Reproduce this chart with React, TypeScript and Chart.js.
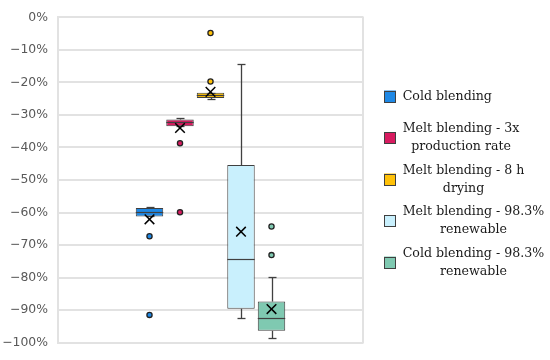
import React, { useEffect, useRef } from 'react';
import { Chart, registerables } from 'chart.js';

Chart.register(...registerables);

// ---- data (values in %) ----
const categories = [
  'Cold blending',
  'Melt blending - 3x production rate',
  'Melt blending - 8 h drying',
  'Melt blending - 98.3% renewable',
  'Cold blending - 98.3% renewable',
];
const legendLines = [
  ['Cold blending'],
  ['Melt blending - 3x', 'production rate'],
  ['Melt blending - 8 h', 'drying'],
  ['Melt blending - 98.3%', 'renewable'],
  ['Cold blending - 98.3%', 'renewable'],
];
const whiskerLow = [-61.2, -33.5, -25.1, -92.3, -98.7];
const q1 = [-61.2, -33.5, -24.8, -89.6, -96.4];
const median = [-59.8, -32.3, -24.0, -74.3, -92.5];
const q3 = [-58.6, -31.4, -23.2, -45.4, -87.4];
const whiskerHigh = [-58.4, -30.9, -23.2, -14.3, -79.7];
const means = [-62.1, -34.0, -22.9, -65.9, -89.7];
const outliers = [
  [-67.3, -91.5],
  [-38.7, -59.9],
  [-4.8, -19.7],
  [],
  [-64.3, -73.1],
];
const yMin = -100;
const yMax = 0;
const yStep = 10;

const colors = ['#1E88E5', '#D81B60', '#FFC107', '#C9F0FD', '#7FC9B1'];
const edge = '#404040';
const gridColor = '#e2e2e2';

const boxPlugin = {
  id: 'boxExtras',
  beforeDatasetsDraw(chart: any) {
    const { ctx, chartArea } = chart;
    ctx.save();
    ctx.strokeStyle = gridColor;
    ctx.lineWidth = 2;
    ctx.beginPath();
    ctx.moveTo(chartArea.right, chartArea.top - 1);
    ctx.lineTo(chartArea.right, chartArea.bottom + 1);
    ctx.stroke();
    ctx.restore();
  },
  afterDatasetsDraw(chart: any) {
    const ctx = chart.ctx;
    const y = chart.scales.y;
    chart.data.datasets.forEach((_ds: any, i: number) => {
      const bar: any = chart.getDatasetMeta(i).data[0];
      const x = Math.round(bar.x) + 0.5;
      const w = bar.width;
      const py = (v: number) => y.getPixelForValue(v);
      ctx.save();
      ctx.strokeStyle = edge;
      ctx.lineWidth = 1.3;
      const line = (x1: number, y1: number, x2: number, y2: number) => {
        ctx.beginPath();
        ctx.moveTo(x1, y1);
        ctx.lineTo(x2, y2);
        ctx.stroke();
      };
      // whiskers
      const yhi = Math.round(py(whiskerHigh[i])) + 0.5;
      const ylo = Math.round(py(whiskerLow[i])) + 0.5;
      line(x, py(q3[i]), x, yhi);
      line(x - 4, yhi, x + 4, yhi);
      line(x, py(q1[i]), x, ylo);
      line(x - 4, ylo, x + 4, ylo);
      // median
      const ym = Math.round(py(median[i])) + 0.5;
      ctx.lineWidth = 1.2;
      line(bar.x - w / 2, ym, bar.x + w / 2, ym);
      // outliers
      outliers[i].forEach((v) => {
        ctx.beginPath();
        ctx.arc(bar.x, py(v), 2.6, 0, Math.PI * 2);
        ctx.fillStyle = colors[i];
        ctx.fill();
        ctx.lineWidth = 1.3;
        ctx.strokeStyle = '#222222';
        ctx.stroke();
      });
      // mean X
      const mx = bar.x;
      const my = py(means[i]);
      const s = 4.8;
      ctx.strokeStyle = '#000000';
      ctx.lineWidth = 1.5;
      line(mx - s, my - s, mx + s, my + s);
      line(mx - s, my + s, mx + s, my - s);
      ctx.restore();
    });
  },
  afterDraw(chart: any) {
    const ctx = chart.ctx;
    const font = '12.6px "DejaVu Serif"';
    const startY = 96.5;
    const gap = 41.5;
    const lineH = 17.6;
    const sqX = 384;
    const sq = 12;
    const textX = 402.7;
    ctx.save();
    ctx.font = font;
    ctx.textBaseline = 'middle';
    legendLines.forEach((lines, i) => {
      const cy = startY + i * gap;
      ctx.fillStyle = colors[i];
      ctx.fillRect(sqX, cy - sq / 2, sq, sq);
      ctx.strokeStyle = edge;
      ctx.lineWidth = 1;
      ctx.strokeRect(sqX + 0.5, Math.round(cy - sq / 2) + 0.5, sq - 1, sq - 1);
      const widths = lines.map((t) => ctx.measureText(t).width);
      const blockW = Math.max(...widths);
      const top = cy - ((lines.length - 1) * lineH) / 2;
      ctx.fillStyle = '#1a1a1a';
      ctx.textAlign = 'center';
      lines.forEach((t, k) => {
        ctx.fillText(t, textX + blockW / 2, top + k * lineH);
      });
    });
    ctx.restore();
  },
};

export default function App() {
  const ref = useRef<HTMLCanvasElement>(null);
  useEffect(() => {
    if (!ref.current) return;
    const chart = new Chart(ref.current, {
      type: 'bar',
      data: {
        labels: [''],
        datasets: categories.map((c, i) => ({
          label: c,
          data: [[q1[i], q3[i]]] as any,
          backgroundColor: colors[i],
          borderColor: edge,
          borderWidth: 1,
          borderSkipped: false,
          categoryPercentage: 0.5,
          barPercentage: 0.9,
        })),
      },
      options: {
        responsive: false,
        animation: false,
        layout: { padding: { left: 0, top: 10, right: 187, bottom: 12 } },
        plugins: {
          legend: { display: false },
          tooltip: { enabled: false },
        },
        scales: {
          x: { display: false },
          y: {
            min: yMin,
            max: yMax,
            afterFit: (scale: any) => {
              scale.width = 58;
            },
            border: { display: true, color: gridColor, width: 2 },
            grid: { color: gridColor, lineWidth: 2, drawTicks: false },
            ticks: {
              stepSize: yStep,
              padding: 10,
              color: '#595959',
              font: { family: '"DejaVu Sans"', size: 12.4 },
              callback: (v: any) => `${v < 0 ? '\u2212' : ''}${Math.abs(v)}%`,
            },
          },
        },
      },
      plugins: [boxPlugin],
    });
    return () => chart.destroy();
  }, []);
  return (
    <div style={{ position: 'fixed', left: 0, top: 0, width: 550, height: 360, background: '#fff' }}>
      <canvas ref={ref} width={550} height={360} />
    </div>
  );
}
